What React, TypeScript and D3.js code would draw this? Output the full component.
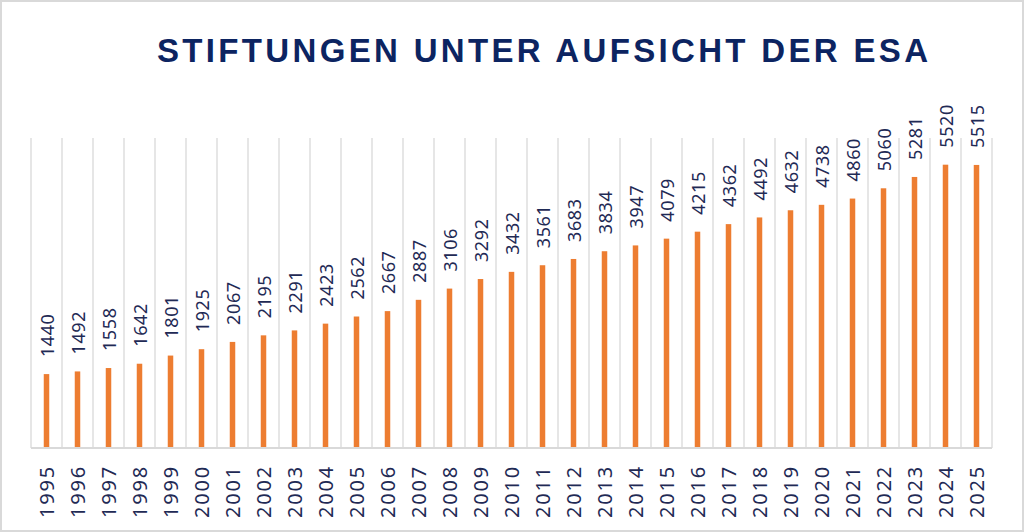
import React, { useEffect, useRef } from 'react';
import * as d3 from 'd3';

const years: string[] = [
  '1995', '1996', '1997', '1998', '1999', '2000', '2001', '2002', '2003', '2004',
  '2005', '2006', '2007', '2008', '2009', '2010', '2011', '2012', '2013', '2014',
  '2015', '2016', '2017', '2018', '2019', '2020', '2021', '2022', '2023', '2024', '2025',
];

const foundations: number[] = [
  1440, 1492, 1558, 1642, 1801, 1925, 2067, 2195, 2291, 2423,
  2562, 2667, 2887, 3106, 3292, 3432, 3561, 3683, 3834, 3947,
  4079, 4215, 4362, 4492, 4632, 4738, 4860, 5060, 5281, 5520, 5515,
];

const title = 'STIFTUNGEN UNTER AUFSICHT DER ESA';

const App: React.FC = () => {
  const svgRef = useRef<SVGSVGElement | null>(null);

  useEffect(() => {
    const width = 1024;
    const height = 532;
    const svg = d3.select(svgRef.current!);
    svg.selectAll('*').remove();

    const margin = { top: 138, left: 31, right: 32, bottom: 84 };
    const plotBottom = height - margin.bottom; // 448

    // frame around the whole picture
    svg
      .append('rect')
      .attr('x', 1)
      .attr('y', 1)
      .attr('width', width - 2)
      .attr('height', height - 2)
      .attr('fill', '#fff')
      .attr('stroke', '#d9d9d9')
      .attr('stroke-width', 2);

    // title
    svg
      .append('text')
      .attr('x', 157)
      .attr('y', 62)
      .attr('textLength', 771)
      .attr('lengthAdjust', 'spacing')
      .attr('font-family', 'Liberation Sans, Arial, sans-serif')
      .attr('font-weight', 'bold')
      .attr('font-size', 33)
      .attr('fill', '#0c2461')
      .text(title);

    const x = d3
      .scaleBand<string>()
      .domain(years)
      .range([margin.left, width - margin.right])
      .padding(0);

    const y = d3.scaleLinear().domain([0, 6040]).range([plotBottom, margin.top]);

    const chart = svg.append('g');

    // vertical category gridlines
    const bounds = years.map((d) => x(d) as number).concat([(x(years[years.length - 1]) as number) + x.bandwidth()]);
    chart
      .selectAll('.grid')
      .data(bounds)
      .enter()
      .append('line')
      .attr('x1', (d) => d)
      .attr('x2', (d) => d)
      .attr('y1', margin.top)
      .attr('y2', plotBottom)
      .attr('stroke', '#d9d9d9')
      .attr('stroke-width', 1.3);

    // bars
    const barW = 5.5;
    chart
      .selectAll('.bar')
      .data(foundations)
      .enter()
      .append('rect')
      .attr('x', (d, i) => (x(years[i]) as number) + x.bandwidth() / 2 - barW / 2)
      .attr('y', (d) => y(d))
      .attr('width', barW)
      .attr('height', (d) => plotBottom - y(d))
      .attr('fill', '#ed7d31');

    // baseline
    chart
      .append('line')
      .attr('x1', margin.left)
      .attr('x2', width - margin.right)
      .attr('y1', plotBottom)
      .attr('y2', plotBottom)
      .attr('stroke', '#d9d9d9')
      .attr('stroke-width', 2);

    // value labels
    chart
      .selectAll('.val')
      .data(foundations)
      .enter()
      .append('text')
      .attr('transform', (d, i) => {
        const cx = (x(years[i]) as number) + x.bandwidth() / 2 + 1;
        return `translate(${cx}, ${y(d) - 17}) rotate(-90)`;
      })
      .attr('dy', '0.35em')
      .attr('text-anchor', 'start')
      .attr('font-family', 'Noto Sans, sans-serif')
      .attr('font-size', 18)
      .attr('letter-spacing', 0.6)
      .attr('fill', '#1f2a55')
      .text((d) => String(d));

    // year labels
    chart
      .selectAll('.yr')
      .data(years)
      .enter()
      .append('text')
      .attr('transform', (d) => {
        const cx = (x(d) as number) + x.bandwidth() / 2;
        return `translate(${cx}, ${plotBottom + 17}) rotate(-90)`;
      })
      .attr('dy', '0.35em')
      .attr('text-anchor', 'end')
      .attr('font-family', 'Noto Sans, sans-serif')
      .attr('font-size', 20)
      .attr('letter-spacing', 1.8)
      .attr('fill', '#1f2a55')
      .text((d) => d);
  }, []);

  return (
    <svg
      ref={svgRef}
      width={1024}
      height={532}
      style={{ position: 'absolute', left: 0, top: 0, display: 'block' }}
    />
  );
};

export default App;
